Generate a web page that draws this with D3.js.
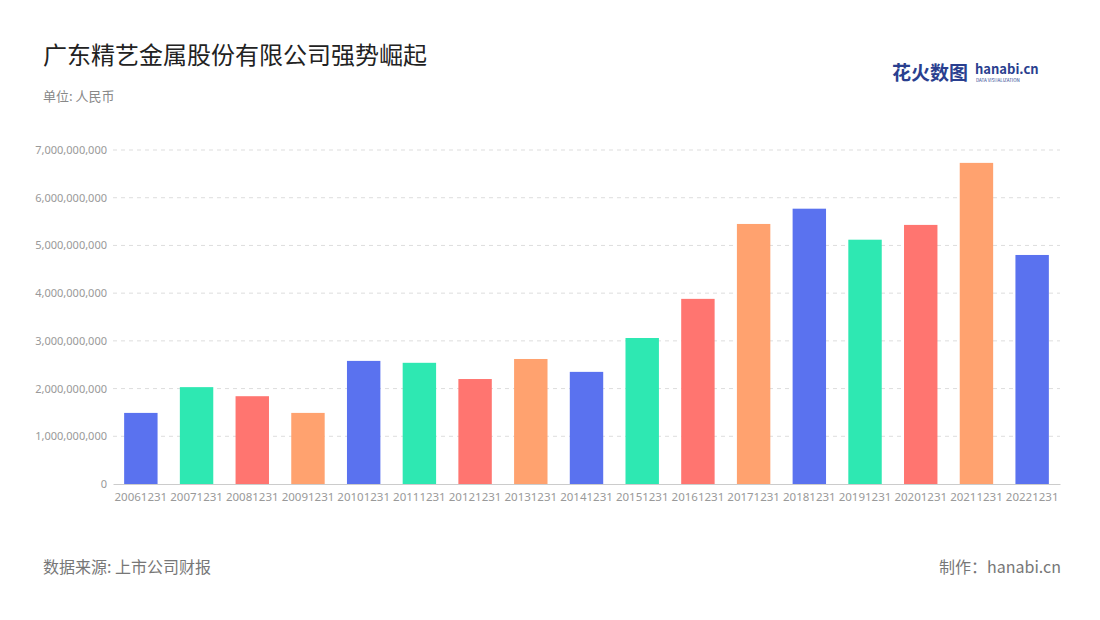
<!DOCTYPE html>
<html><head><meta charset="utf-8">
<script src="https://cdn.jsdelivr.net/npm/d3@7"></script>
<style>body{margin:0;background:#fff;font-family:"Noto Sans CJK SC","Noto Sans",sans-serif;}</style>
</head><body><svg id="c" width="1100" height="620"></svg>
<script>
const categories=["20061231","20071231","20081231","20091231","20101231","20111231","20121231","20131231","20141231","20151231","20161231","20171231","20181231","20191231","20201231","20211231","20221231"];
const values=[1.49e9,2.03e9,1.84e9,1.49e9,2.58e9,2.54e9,2.20e9,2.62e9,2.35e9,3.06e9,3.88e9,5.45e9,5.77e9,5.12e9,5.43e9,6.73e9,4.80e9];
const palette=["#5a72ef","#2ee8b2","#ff7570","#ffa26f"];
const yTicks=[0,1e9,2e9,3e9,4e9,5e9,6e9,7e9];
const svg=d3.select("#c");
const x=d3.scaleBand().domain(categories).range([113,1060]).paddingInner(0.4).paddingOuter(0.2);
const y=d3.scaleLinear().domain([0,7e9]).range([484,150]);
svg.append("text").attr("x",43).attr("y",64).attr("font-size",24).attr("fill","#222").text("广东精艺金属股份有限公司强势崛起");
svg.append("text").attr("x",43).attr("y",101).attr("font-size",13).attr("fill","#888").text("单位: 人民币");
const ya=svg.append("g").attr("transform","translate(113,0)").call(d3.axisLeft(y).tickValues(yTicks).tickFormat(d3.format(",")).tickSize(0).tickPadding(6));
ya.select(".domain").remove();
ya.selectAll("text").attr("fill","#999").attr("font-size",11).attr("font-family","Noto Sans");
svg.append("g").selectAll("line").data(yTicks.slice(1)).join("line").attr("x1",113).attr("x2",1060).attr("y1",d=>y(d)).attr("y2",d=>y(d)).attr("stroke","#ddd").attr("stroke-dasharray","4,4");
svg.append("g").selectAll("rect").data(values).join("rect").attr("x",(d,i)=>x(categories[i])).attr("width",x.bandwidth()).attr("y",d=>y(d)).attr("height",d=>484-y(d)).attr("fill",(d,i)=>palette[i%4]);
const xa=svg.append("g").attr("transform","translate(0,484)").call(d3.axisBottom(x).tickSize(0).tickPadding(9));
xa.select(".domain").attr("stroke","#ccc");
xa.selectAll("text").attr("fill","#999").attr("font-size",11.5).attr("font-family","Noto Sans");
svg.append("text").attr("x",43).attr("y",573).attr("font-size",16).attr("fill","#777").text("数据来源: 上市公司财报");
svg.append("text").attr("x",1061).attr("y",573).attr("text-anchor","end").attr("font-size",16).attr("fill","#777").text("制作：hanabi.cn");
svg.append("text").attr("x",892).attr("y",80).attr("font-size",19).attr("font-weight","bold").attr("fill","#2a3f8f").text("花火数图");
svg.append("text").attr("x",975).attr("y",74).attr("font-size",13).attr("font-weight","bold").attr("fill","#2a3f8f").text("hanabi.cn");
svg.append("text").attr("x",976).attr("y",82).attr("font-size",4.5).attr("fill","#2a3f8f").text("DATA VISUALIZATION");
</script></body></html>
